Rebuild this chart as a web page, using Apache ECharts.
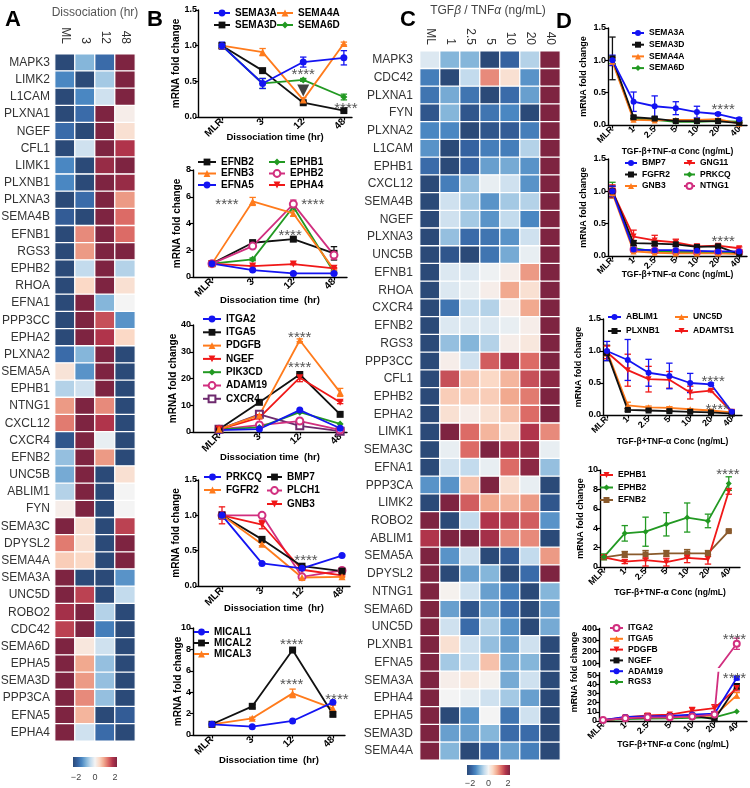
<!DOCTYPE html>
<html><head><meta charset="utf-8">
<script src="https://cdn.jsdelivr.net/npm/echarts@6/dist/echarts.min.js"></script>
<style>html,body{margin:0;padding:0;background:#fff}#c{width:750px;height:788px}</style>
</head><body><div id="c"></div>
<script>
const FF = "'Liberation Sans', Arial, Helvetica, sans-serif";

// ---------------- Panel A heatmap ----------------
const aCols = ['ML','3','12','48'];
const aRows = ['MAPK3','LIMK2','L1CAM','PLXNA1','NGEF','CFL1','LIMK1','PLXNB1','PLXNA3','SEMA4B','EFNB1','RGS3','EPHB2','RHOA','EFNA1','PPP3CC','EPHA2','PLXNA2','SEMA5A','EPHB1','NTNG1','CXCL12','CXCR4','EFNB2','UNC5B','ABLIM1','FYN','SEMA3C','DPYSL2','SEMA4A','SEMA3A','UNC5D','ROBO2','CDC42','SEMA6D','EPHA5','SEMA3D','PPP3CA','EFNA5','EPHA4'];
const aVals = [
[-2,-0.8,-1.5,2],[-1.2,-2,-0.6,2],[-2,-1.2,-0.3,2],[-2,-1.5,2,0.1],[-1.5,-2,2,0.3],
[-2,-0.3,2,1.6],[-1.2,-2,1.8,2],[-1.2,-2,2,1.8],[-2,-1.5,2,0.9],[-1.7,-2,2,1.2],
[-2,1.0,2,1.2],[-2,0.9,2,2],[-2,-0.4,2,-0.5],[-2,0.4,2,0.3],[-2,2,-0.8,0],
[-2,2,1.4,-1.1],[-2,2,1.6,0.4],[-1.5,-0.8,2,-2],[0.25,-1.1,2,-2],[-0.5,-0.3,2,-2],
[0.9,2,1.0,-2],[1.1,2,1.6,-2],[-1.8,2,-0.1,-2],[-0.7,2,0.9,-2],[-0.9,2,-2,0.3],
[-0.5,2,-2,0],[0.1,2,-2,0],[2,0.3,-2,1.5],[1.1,0.3,-2,2],[0.5,0.4,-2,2],
[2,-2,-2,-1.1],[2,1.5,-2,-0.4],[1.7,2,-0.5,-2],[1.5,2,-1.3,-2],[2,0.2,-0.3,-2],
[2,0.8,-0.7,-2],[2,0.9,-0.7,-2],[2,1.0,-0.7,-2],[2,0.7,-2,-1.7],[2,-0.3,-1.5,-2]];

// ---------------- Panel C heatmap ----------------
const cCols = ['ML','1','2.5','5','10','20','40'];
const cRows = ['MAPK3','CDC42','PLXNA1','FYN','PLXNA2','L1CAM','EPHB1','CXCL12','SEMA4B','NGEF','PLXNA3','UNC5B','EFNB1','RHOA','CXCR4','EFNB2','RGS3','PPP3CC','CFL1','EPHB2','EPHA2','LIMK1','SEMA3C','EFNA1','PPP3CA','LIMK2','ROBO2','ABLIM1','SEMA5A','DPYSL2','NTNG1','SEMA6D','UNC5D','PLXNB1','EFNA5','SEMA3A','EPHA4','EPHA5','SEMA3D','SEMA4A'];
const cVals = [
[-0.2,-0.8,-0.8,-2,-1.6,-0.5,2],[-1.3,-2,-0.4,1.0,0.3,-1.1,2],[-1.4,-0.9,-1.4,-2,-1.5,-1.0,2],
[-1.8,-0.8,-1.8,-1.4,-1.2,-2,2],[-1.2,-1.2,-2,-1.8,-1.7,-1.3,2],[-1.1,-2,-1.6,-1.3,-1.3,-0.5,2],
[-1.5,-2,-1.6,-1.0,-0.9,-1.1,2],[-2,-1.3,-0.7,-0.1,-0.3,-1.1,2],[-2,-0.3,-0.6,-1.1,-0.6,-0.5,2],
[-2,-0.3,-0.6,-1.1,-0.4,-1.2,2],[-2,-0.7,-1.5,-1.4,-1.1,-0.3,2],[-2,-1.8,-2,-1.4,-0.9,-0.1,2],
[-2,-0.2,-0.2,-0.05,0.1,0.9,2],[-2,-0.2,-0.1,0.1,0.8,0.3,2],[-2,-1.4,-0.4,-0.5,0.1,0.8,2],
[-2,-0.2,-0.2,-0.2,-0.1,0.1,2],[-2,-0.7,-0.8,-0.5,0.1,0.2,2],[-2,0.1,-0.3,1.3,1.7,1.2,2],
[-2,1.4,0.6,0.4,0.7,1.4,1.9],[-2,0.5,0.5,0.5,0.8,1.1,2],[-2,0.3,0.1,0.3,0.6,1.2,2],
[-2,2,1.2,0.7,0.3,1.6,1.0],[-2,-0.1,1.2,2,1.7,1.8,-0.1],[-2,-0.3,-0.4,-0.1,1.2,1.9,-0.7],
[-1.1,-1.1,0.6,2,0.3,-0.1,-2],[-2,2,1.3,0.8,0.7,0.9,-1.8],[2,-2,-0.4,1.6,1.5,1.3,-1.1],
[1.6,2,2,1.7,1.0,1.0,-2],[2,-1.1,-0.3,-2,-1.7,-0.4,0.9],[2,-2,-1.0,-0.8,-2,-1.5,2],
[2,0.05,-0.3,-1.0,-1.3,-2,-0.8],[2,-1.0,-1.8,-1.0,-1.5,-2,-1.0],[2,-0.3,-1.5,-0.5,-1.1,-2,-0.9],
[2,0.3,-0.3,-0.7,-1.0,-0.3,-2],[2,-0.6,-0.4,0.6,-0.9,-0.8,-2],[2,0.1,0.2,0.05,-0.9,-0.3,-2],
[2,0,-0.1,-0.3,-0.6,-1.0,-2],[2,-2,-1.1,0,-1.4,-0.3,-2],[2,-1.0,-1.0,-0.8,-1.5,-1.5,-2],
[2,-0.8,-2,-1.5,-1.0,-1.3,-2]];

const PALETTE = ['#2b4a78','#3562a0','#4a87c2','#85b6da','#c3dbed','#f4f4f4','#fbd9c6','#f1a98f','#dc6b66','#b0344b','#7e2441'];

// ---------------- Panel B line charts ----------------
const catsB = ['MLR','3','12','48'];
// B1
const b1_SEMA3A = [1.00,0.47,0.77,0.83], b1_SEMA3A_err = [0.05,0.07,0.07,0.10];
const b1_SEMA3D = [1.00,0.65,0.20,0.09], b1_SEMA3D_err = [0.04,0.01,0.02,0.01];
const b1_SEMA4A = [1.00,0.91,0.24,1.03], b1_SEMA4A_err = [0.03,0.05,0.03,0.02];
const b1_SEMA6D = [1.00,0.47,0.52,0.28], b1_SEMA6D_err = [0.03,0.07,0.02,0.04];
const b1_stars = [[2,0.63],[3.05,0.15]];
const b1_arrow = [[2,0.37]];
// B2
const b2_EFNB2 = [1.0,2.56,2.83,1.77], b2_EFNB2_err = [0.1,0.2,0.1,0.5];
const b2_EFNB3 = [1.0,5.65,4.75,0.55], b2_EFNB3_err = [0.1,0.3,0.2,0.1];
const b2_EFNA5 = [1.0,0.52,0.27,0.27], b2_EFNA5_err = [0.05,0.05,0.05,0.05];
const b2_EPHB1 = [1.0,1.32,5.25,0.35], b2_EPHB1_err = [0.05,0.1,0.3,0.1];
const b2_EPHB2 = [1.0,2.31,5.45,1.64], b2_EPHB2_err = [0.1,0.15,0.3,0.3];
const b2_EPHA4 = [1.0,0.82,0.97,0.65], b2_EPHA4_err = [0.05,0.05,0.05,0.05];
const b2_stars = [[0.37,5.6],[2.48,5.63],[1.92,3.3]];
// B3
const b3_ITGA2 = [0.7,1.1,8.2,1.4];
const b3_ITGA5 = [1.0,11.1,21.5,6.6];
const b3_PDGFB = [1.0,6.3,34.3,14.8], b3_PDGFB_err = [0,0.5,0.5,1.5];
const b3_NGEF = [1.0,5.4,20.3,11.1], b3_NGEF_err = [0,0.5,1.5,0.5];
const b3_PIK3CD = [1.0,1.7,7.4,3.0];
const b3_ADAM19 = [1.0,2.6,4.1,0.8];
const b3_CXCR4 = [1.0,6.6,2.3,0.3];
const b3_stars = [[2.0,36.3],[2.0,25.0]];
// B4
const b4_PRKCQ = [1.0,0.32,0.25,0.43], b4_PRKCQ_err = [0.05,0.01,0.01,0.01];
const b4_FGFR2 = [1.0,0.59,0.12,0.13], b4_FGFR2_err = [0.05,0.02,0.01,0.01];
const b4_BMP7 = [1.0,0.66,0.28,0.21], b4_BMP7_err = [0.05,0.01,0.01,0.01];
const b4_PLCH1 = [1.0,1.0,0.13,0.22], b4_PLCH1_err = [0.03,0.03,0.01,0.01];
const b4_GNB3 = [1.0,0.87,0.23,0.15], b4_GNB3_err = [0.12,0.06,0.01,0.01];
const b4_stars = [[2.1,0.4]];
// B5
const b5_MICAL1 = [1.0,0.78,1.31,3.05];
const b5_MICAL2 = [1.0,2.68,7.94,1.93], b5_MICAL2_err = [0,0.15,0.1,0.15];
const b5_MICAL3 = [1.0,1.56,3.89,2.49], b5_MICAL3_err = [0,0.1,0.4,0.3];
const b5_stars = [[1.98,8.7],[1.98,4.95],[3.1,3.55]];

// ---------------- Panel D line charts ----------------
const catsD = ['MLR','1','2.5','5','10','20','40'];
// D1
const d1_SEMA3A = [1.0,0.36,0.29,0.26,0.20,0.17,0.09], d1_SEMA3A_err = [0.08,0.15,0.16,0.10,0.09,0.02,0.02];
const d1_SEMA3D = [1.03,0.12,0.10,0.06,0.06,0.06,0.03], d1_SEMA3D_err = [0.33,0.02,0.02,0.01,0.01,0.01,0.01];
const d1_SEMA4A = [0.98,0.08,0.07,0.08,0.08,0.09,0.02], d1_SEMA4A_err = [0.06,0.01,0.01,0.01,0.01,0.01,0.01];
const d1_SEMA6D = [1.0,0.10,0.08,0.05,0.05,0.06,0.05], d1_SEMA6D_err = [0.05,0.01,0.01,0.01,0.01,0.01,0.01];
const d1_stars = [[5.24,0.28]];
// D2
const d2_BMP7 = [1.0,0.10,0.09,0.09,0.08,0.07,0.07], d2_BMP7_err = [0.08,0.02,0.01,0.01,0.01,0.01,0.01];
const d2_FGFR2 = [1.0,0.20,0.19,0.18,0.14,0.15,0.03], d2_FGFR2_err = [0.08,0.04,0.03,0.03,0.02,0.02,0.01];
const d2_GNB3 = [0.97,0.07,0.05,0.04,0.04,0.04,0.03], d2_GNB3_err = [0.05,0.01,0.01,0.01,0.01,0.01,0.01];
const d2_GNG11 = [1.0,0.30,0.24,0.21,0.15,0.16,0.12], d2_GNG11_err = [0.1,0.1,0.08,0.05,0.03,0.02,0.02];
const d2_PRKCQ = [1.02,0.12,0.07,0.06,0.06,0.05,0.05], d2_PRKCQ_err = [0.12,0.02,0.01,0.01,0.01,0.01,0.01];
const d2_NTNG1 = [1.0,0.10,0.08,0.07,0.06,0.06,0.06], d2_NTNG1_err = [0.05,0.01,0.01,0.01,0.01,0.01,0.01];
const d2_stars = [[5.24,0.26]];
// D3
const d3_ABLIM1 = [1.0,0.86,0.66,0.61,0.50,0.48,0.05], d3_ABLIM1_err = [0.15,0.32,0.21,0.20,0.15,0.02,0.03];
const d3_PLXNB1 = [0.97,0.08,0.07,0.06,0.05,0.04,0.02], d3_PLXNB1_err = [0.12,0.02,0.01,0.01,0.01,0.01,0.01];
const d3_UNC5D = [1.0,0.15,0.12,0.11,0.09,0.07,0.04], d3_UNC5D_err = [0.08,0.05,0.02,0.02,0.01,0.01,0.01];
const d3_ADAMTS1 = [0.98,0.70,0.56,0.55,0.35,0.38,0.05], d3_ADAMTS1_err = [0.1,0.25,0.2,0.13,0.1,0.02,0.02];
const d3_stars = [[5.1,0.56],[5.3,0.125]];
// D4
const d4_EPHB1 = [1.0,0.55,0.7,0.5,0.95,0.8,7.8], d4_EPHB1_err = [0.1,0.2,0.6,0.4,0.5,0.5,0.3];
const d4_EPHB2 = [1.05,3.47,3.64,4.4,5.1,4.75,8.6], d4_EPHB2_err = [0.3,0.8,1.5,1.2,1.5,0.7,0.7];
const d4_EFNB2 = [1.0,1.3,1.3,1.4,1.4,1.4,3.7], d4_EFNB2_err = [0.1,0.3,0.4,0.3,0.4,0.3,0.1];
const d4_stars = [[5.96,9.8]];
// D5
const d5_ITGA2 = [1,3,4,4,5,7,270], d5_ITGA2_err = [0,0,0,0,0,0,50];
const d5_ITGA5 = [1,3,4,4,5,6,28], d5_ITGA5_err = [0,0,0,0,0,0,3];
const d5_PDGFB = [1,4,6,7,11,14,36], d5_PDGFB_err = [0,1,2,1,4,4,3];
const d5_NGEF = [1,3,4,5,6,2,38], d5_NGEF_err = [0,1,4,1,1,1,3];
const d5_ADAM19 = [1,4.5,5,5.5,7,8,47], d5_ADAM19_err = [0,1,1,1,1,2,2];
const d5_RGS3 = [1,2,2.5,3,3.5,4,10.5];
const d5_starsTop = [[5.9,332]];
const d5_starsBottom = [[5.9,49.5]];

// ---------------- styles ----------------
const COL = {blue:'#1414f2', orange:'#ff7b1c', black:'#111111', green:'#229922', mag:'#d12f7f', red:'#f01818', purple:'#6e2a6e', brown:'#8a5a2c'};
const SYM = {
  circle:{symbol:'circle'}, square:{symbol:'rect'}, tri:{symbol:'triangle'}, down:{symbol:'triangle', rot:180},
  star:{symbol:'diamond'}, ocircle:{symbol:'emptyCircle'}, osquare:{symbol:'emptyRect'}
};

const option = {animation:false, backgroundColor:'#fff', textStyle:{fontFamily:FF},
  grid:[], xAxis:[], yAxis:[], series:[], legend:[], visualMap:[], graphic:{elements:[]}};

function heatPanel(cols, rows, vals, g, rowMargin, colMargin) {
  const gi = option.grid.length;
  option.grid.push({left:g.l, top:g.t, width:g.w, height:g.h, outerBoundsMode:'none', containLabel:false});
  option.xAxis.push({gridIndex:gi, type:'category', data:cols, position:'top',
    axisLine:{show:false}, axisTick:{show:false}, splitLine:{show:false},
    axisLabel:{rotate:90, interval:0, fontSize:12, color:'#333', margin:colMargin, fontFamily:FF}});
  option.yAxis.push({gridIndex:gi, type:'category', data:rows, inverse:true,
    axisLine:{show:false}, axisTick:{show:false}, splitLine:{show:false},
    axisLabel:{interval:0, fontSize:12, color:'#333', margin:rowMargin, fontFamily:FF}});
  const data = [];
  rows.forEach((r,i)=>cols.forEach((c,j)=>data.push([j,i,vals[i][j]])));
  const si = option.series.length;
  option.series.push({type:'heatmap', xAxisIndex:gi, yAxisIndex:gi, data,
    itemStyle:{borderColor:'#fff', borderWidth:1.3}, emphasis:{disabled:true}});
  option.visualMap.push({type:'continuous', show:false, min:-2, max:2, seriesIndex:si, dimension:2,
    inRange:{color:PALETTE}});
}

function errRender(params, api) {
  const x = api.value(0), lo = api.value(1), hi = api.value(2);
  const p1 = api.coord([x, lo]), p2 = api.coord([x, hi]);
  const w = 3.2;
  const style = {stroke: api.visual('color'), lineWidth: 1.3, fill: null};
  return {type:'group', children:[
    {type:'line', shape:{x1:p1[0],y1:p1[1],x2:p2[0],y2:p2[1]}, style},
    {type:'line', shape:{x1:p1[0]-w,y1:p1[1],x2:p1[0]+w,y2:p1[1]}, style},
    {type:'line', shape:{x1:p2[0]-w,y1:p2[1],x2:p2[0]+w,y2:p2[1]}, style}]};
}
function starRender(params, api) {
  const p = api.coord([api.value(0), api.value(1)]);
  return {type:'text', x:p[0], y:p[1]+3, style:{text:'****', fill:'#555', font:'15px ' + FF, align:'center', verticalAlign:'middle'}};
}

function linePanel(c) {
  const gi = option.grid.length;
  const fs = c.fs;
  const idx = c.cats.map((_, i) => i);
  option.grid.push({left:c.g.l, top:c.g.t, width:c.g.w, height:c.g.h, outerBoundsMode:'none', containLabel:false});
  const axLine = {show:true, onZero:false, lineStyle:{color:'#000', width:1.4}};
  option.xAxis.push({gridIndex:gi, type:'value', min:c.xMin, max:c.xMax, show: c.showX !== false,
    axisLine:axLine, splitLine:{show:false},
    axisTick:{show:true, customValues:idx, length:3.5, lineStyle:{color:'#000', width:1.2}},
    axisLabel:{customValues:idx, formatter:v=>c.cats[Math.round(v)], rotate:45, fontSize:fs, fontWeight:'bold', color:'#000', margin:3, fontFamily:FF},
    name:c.xName, nameLocation:'middle', nameGap:c.xNameGap, nameMoveOverlap:false,
    nameTextStyle:{fontSize:c.xNameFs, fontWeight:'bold', color:'#000', fontFamily:FF}});
  option.yAxis.push({gridIndex:gi, type:'value', min:c.yMin, max:c.yMax,
    axisLine:axLine, splitLine:{show:false},
    axisTick:{show:true, customValues:c.yTicks, length:3, lineStyle:{color:'#000', width:1.2}},
    axisLabel:{customValues:c.yTicks, formatter:v=>v.toFixed(c.yDec), fontSize:c.yfs || fs, fontWeight:'bold', color:'#000', margin:c.ym != null ? c.ym : 2, fontFamily:FF},
    name:c.yName || '', nameLocation:'middle', nameGap:c.yNameGap || 0, nameMoveOverlap:false,
    nameTextStyle:{fontSize:c.yNameFs, fontWeight:'bold', color:'#000', fontFamily:FF}});
  c.series.forEach(s => {
    const sy = SYM[s.sym];
    option.series.push({type:'line', name:s.name + '|' + c.key, xAxisIndex:gi, yAxisIndex:gi,
      data:s.data.map((v,i)=>[i,v]), symbol:sy.symbol, symbolRotate:sy.rot || 0, symbolSize:c.symSize,
      itemStyle:{color:s.color, borderWidth: (sy.symbol.indexOf('empty')===0 ? 1.5 : 0)},
      lineStyle:{color:s.color, width:1.8}, clip:true, z:3, emphasis:{disabled:true}});
    if (s.err) {
      const ed = [];
      s.data.forEach((v,i)=>{ if (s.err[i] > 0) ed.push([i, v - s.err[i], v + s.err[i]]); });
      option.series.push({type:'custom', xAxisIndex:gi, yAxisIndex:gi, data:ed, renderItem:errRender,
        itemStyle:{color:s.color}, clip:true, z:2, silent:true});
    }
  });
  if (c.stars) option.series.push({type:'custom', xAxisIndex:gi, yAxisIndex:gi, data:c.stars, renderItem:starRender, clip:false, z:5, silent:true});
  if (c.extra) option.series.push(Object.assign({xAxisIndex:gi, yAxisIndex:gi}, c.extra));
  return gi;
}

function addLegend(key, names, left, centerY, spacing, iw, ih, fs) {
  option.legend.push({data:names.map(n=>n+'|'+key), left, top:centerY - spacing/2, orient:'vertical',
    padding:0, itemGap:0, itemWidth:iw, itemHeight:ih, selectedMode:false,
    formatter:n=>n.split('|')[0],
    textStyle:{fontSize:fs, fontWeight:'bold', color:'#000', lineHeight:spacing, fontFamily:FF}});
}

// ---------- build heatmaps ----------
heatPanel(aCols, aRows, aVals, {l:55, t:54, w:80, h:687}, 5, 10);
heatPanel(cCols, cRows, cVals, {l:420, t:51, w:140, h:709}, 7, 6);

// ---------- build B panels ----------
const Bfs = 10, BxFs = 9.5, ByFs = 10, Bsym = 7, Byfs = 9;
linePanel({key:'B1', cats:catsB, g:{l:198,t:10,w:154,h:107}, xMin:-0.59, xMax:3.2, yMin:0, yMax:1.5, yTicks:[0,0.5,1,1.5], yDec:1, yfs:Byfs, ym:1,
  yName:'mRNA fold change', yNameGap:17, yNameFs:ByFs, xName:'Dissociation time (hr)', xNameGap:15, xNameFs:BxFs, fs:Bfs, symSize:Bsym,
  series:[
    {name:'SEMA3D', color:COL.black, sym:'square', data:b1_SEMA3D, err:b1_SEMA3D_err},
    {name:'SEMA6D', color:COL.green, sym:'star', data:b1_SEMA6D, err:b1_SEMA6D_err},
    {name:'SEMA4A', color:COL.orange, sym:'tri', data:b1_SEMA4A, err:b1_SEMA4A_err},
    {name:'SEMA3A', color:COL.blue, sym:'circle', data:b1_SEMA3A, err:b1_SEMA3A_err}],
  stars:b1_stars,
  extra:{type:'scatter', data:b1_arrow, symbol:'triangle', symbolRotate:180, symbolSize:[12,12], itemStyle:{color:'#111'}, z:4, silent:true}});
addLegend('B1', ['SEMA3A','SEMA3D'], 213, 13, 12, 16, 8.5, Bfs);
addLegend('B1', ['SEMA4A','SEMA6D'], 276, 13, 12, 16, 8.5, Bfs);

linePanel({key:'B2', cats:catsB, g:{l:193,t:170,w:154,h:107}, xMin:-0.467, xMax:3.32, yMin:0, yMax:8, yTicks:[0,2,4,6,8], yDec:0, yfs:Byfs,
  yName:'mRNA fold change', yNameGap:11, yNameFs:ByFs, xName:'Dissociation time  (hr)', xNameGap:18, xNameFs:BxFs, fs:Bfs, symSize:Bsym,
  series:[
    {name:'EFNB2', color:COL.black, sym:'square', data:b2_EFNB2, err:b2_EFNB2_err},
    {name:'EPHB1', color:COL.green, sym:'star', data:b2_EPHB1, err:b2_EPHB1_err},
    {name:'EPHB2', color:COL.mag, sym:'ocircle', data:b2_EPHB2, err:b2_EPHB2_err},
    {name:'EFNB3', color:COL.orange, sym:'tri', data:b2_EFNB3, err:b2_EFNB3_err},
    {name:'EPHA4', color:COL.red, sym:'down', data:b2_EPHA4, err:b2_EPHA4_err},
    {name:'EFNA5', color:COL.blue, sym:'circle', data:b2_EFNA5, err:b2_EFNA5_err}],
  stars:b2_stars});
addLegend('B2', ['EFNB2','EFNB3','EFNA5'], 197, 162, 11.5, 18, 8.5, Bfs);
addLegend('B2', ['EPHB1','EPHB2','EPHA4'], 268, 162, 11.5, 16, 8.5, Bfs);

linePanel({key:'B3', cats:catsB, g:{l:193,t:325,w:154,h:107}, xMin:-0.645, xMax:3.17, yMin:0, yMax:40, yTicks:[0,10,20,30,40], yDec:0, yfs:Byfs,
  yName:'mRNA fold change', yNameGap:15, yNameFs:ByFs, xName:'Dissociation time  (hr)', xNameGap:20, xNameFs:BxFs, fs:Bfs, symSize:Bsym,
  series:[
    {name:'CXCR4', color:COL.purple, sym:'osquare', data:b3_CXCR4},
    {name:'ADAM19', color:COL.mag, sym:'ocircle', data:b3_ADAM19},
    {name:'PIK3CD', color:COL.green, sym:'star', data:b3_PIK3CD},
    {name:'ITGA2', color:COL.blue, sym:'circle', data:b3_ITGA2},
    {name:'ITGA5', color:COL.black, sym:'square', data:b3_ITGA5},
    {name:'NGEF', color:COL.red, sym:'down', data:b3_NGEF, err:b3_NGEF_err},
    {name:'PDGFB', color:COL.orange, sym:'tri', data:b3_PDGFB, err:b3_PDGFB_err}],
  stars:b3_stars});
addLegend('B3', ['ITGA2','ITGA5','PDGFB','NGEF','PIK3CD','ADAM19','CXCR4'], 202, 319, 13.3, 18, 8.5, Bfs);

linePanel({key:'B4', cats:catsB, g:{l:198,t:480,w:152,h:106}, xMin:-0.6, xMax:3.2, yMin:0, yMax:1.5, yTicks:[0,0.5,1,1.5], yDec:1, yfs:Byfs, ym:1,
  yName:'mRNA fold change', yNameGap:17, yNameFs:ByFs, xName:'Dissociation time  (hr)', xNameGap:17, xNameFs:BxFs, fs:Bfs, symSize:Bsym,
  series:[
    {name:'PLCH1', color:COL.mag, sym:'ocircle', data:b4_PLCH1, err:b4_PLCH1_err},
    {name:'GNB3', color:COL.red, sym:'down', data:b4_GNB3, err:b4_GNB3_err},
    {name:'BMP7', color:COL.black, sym:'square', data:b4_BMP7, err:b4_BMP7_err},
    {name:'FGFR2', color:COL.orange, sym:'tri', data:b4_FGFR2, err:b4_FGFR2_err},
    {name:'PRKCQ', color:COL.blue, sym:'circle', data:b4_PRKCQ, err:b4_PRKCQ_err}],
  stars:b4_stars});
addLegend('B4', ['PRKCQ','FGFR2'], 203, 477, 13, 17, 8.5, Bfs);
addLegend('B4', ['BMP7','PLCH1','GNB3'], 266, 477, 13.5, 15, 8.5, Bfs);

linePanel({key:'B5', cats:catsB, g:{l:193,t:628,w:152,h:107}, xMin:-0.47, xMax:3.3, yMin:0, yMax:10, yTicks:[0,2,4,6,8,10], yDec:0, yfs:Byfs,
  yName:'mRNA fold change', yNameGap:10, yNameFs:ByFs, xName:'Dissociation time  (hr)', xNameGap:20, xNameFs:BxFs, fs:Bfs, symSize:Bsym,
  series:[
    {name:'MICAL3', color:COL.orange, sym:'tri', data:b5_MICAL3, err:b5_MICAL3_err},
    {name:'MICAL2', color:COL.black, sym:'square', data:b5_MICAL2, err:b5_MICAL2_err},
    {name:'MICAL1', color:COL.blue, sym:'circle', data:b5_MICAL1}],
  stars:b5_stars});
addLegend('B5', ['MICAL1','MICAL2','MICAL3'], 193, 632, 11, 15, 8.5, Bfs);

// ---------- build D panels ----------
const Dfs = 9, DxFs = 8.5, DyFs = 9, Dsym = 6, DxName = 'TGF-\u03b2+TNF-\u03b1 Conc (ng/mL)';
linePanel({key:'D1', cats:catsD, g:{l:608,t:28,w:139,h:97}, xMin:-0.21, xMax:6.37, yMin:0, yMax:1.5, yTicks:[0,0.5,1,1.5], yDec:1,
  yName:'mRNA fold change', yNameGap:20, yNameFs:DyFs, xName:DxName, xNameGap:22, xNameFs:DxFs, fs:Dfs, symSize:Dsym,
  series:[
    {name:'SEMA6D', color:COL.green, sym:'star', data:d1_SEMA6D, err:d1_SEMA6D_err},
    {name:'SEMA4A', color:COL.orange, sym:'tri', data:d1_SEMA4A, err:d1_SEMA4A_err},
    {name:'SEMA3D', color:COL.black, sym:'square', data:d1_SEMA3D, err:d1_SEMA3D_err},
    {name:'SEMA3A', color:COL.blue, sym:'circle', data:d1_SEMA3A, err:d1_SEMA3A_err}],
  stars:d1_stars});
addLegend('D1', ['SEMA3A','SEMA3D','SEMA4A','SEMA6D'], 631, 33, 11.7, 12, 7.5, 8.5);

linePanel({key:'D2', cats:catsD, g:{l:608,t:159,w:139,h:97}, xMin:-0.21, xMax:6.37, yMin:0, yMax:1.5, yTicks:[0,0.5,1,1.5], yDec:1,
  yName:'mRNA fold change', yNameGap:20, yNameFs:DyFs, xName:DxName, xNameGap:14, xNameFs:DxFs, fs:Dfs, symSize:Dsym,
  series:[
    {name:'NTNG1', color:COL.mag, sym:'ocircle', data:d2_NTNG1, err:d2_NTNG1_err},
    {name:'PRKCQ', color:COL.green, sym:'star', data:d2_PRKCQ, err:d2_PRKCQ_err},
    {name:'GNB3', color:COL.orange, sym:'tri', data:d2_GNB3, err:d2_GNB3_err},
    {name:'GNG11', color:COL.red, sym:'down', data:d2_GNG11, err:d2_GNG11_err},
    {name:'FGFR2', color:COL.black, sym:'square', data:d2_FGFR2, err:d2_FGFR2_err},
    {name:'BMP7', color:COL.blue, sym:'circle', data:d2_BMP7, err:d2_BMP7_err}],
  stars:d2_stars});
addLegend('D2', ['BMP7','FGFR2','GNB3'], 624, 163, 11.5, 12, 7.5, 8.5);
addLegend('D2', ['GNG11','PRKCQ','NTNG1'], 683, 163, 11.5, 11, 7.5, 8.5);

linePanel({key:'D3', cats:catsD, g:{l:603,t:319,w:139,h:96}, xMin:-0.19, xMax:6.49, yMin:0, yMax:1.5, yTicks:[0,0.5,1,1.5], yDec:1,
  yName:'mRNA fold change', yNameGap:20, yNameFs:DyFs, xName:DxName, xNameGap:22, xNameFs:DxFs, fs:Dfs, symSize:Dsym,
  series:[
    {name:'UNC5D', color:COL.orange, sym:'tri', data:d3_UNC5D, err:d3_UNC5D_err},
    {name:'PLXNB1', color:COL.black, sym:'square', data:d3_PLXNB1, err:d3_PLXNB1_err},
    {name:'ADAMTS1', color:COL.red, sym:'down', data:d3_ADAMTS1, err:d3_ADAMTS1_err},
    {name:'ABLIM1', color:COL.blue, sym:'circle', data:d3_ABLIM1, err:d3_ABLIM1_err}],
  stars:d3_stars});
addLegend('D3', ['ABLIM1','PLXNB1'], 607, 317, 14, 13, 7.5, 8.5);
addLegend('D3', ['UNC5D','ADAMTS1'], 674, 317, 14, 13, 7.5, 8.5);

linePanel({key:'D4', cats:catsD, g:{l:600,t:470,w:140,h:97}, xMin:-0.19, xMax:6.54, yMin:0, yMax:10, yTicks:[0,2,4,6,8,10], yDec:0,
  yName:'mRNA fold change', yNameGap:15, yNameFs:DyFs, xName:DxName, xNameGap:21, xNameFs:DxFs, fs:Dfs, symSize:Dsym,
  series:[
    {name:'EFNB2', color:COL.brown, sym:'square', data:d4_EFNB2, err:d4_EFNB2_err},
    {name:'EPHB1', color:COL.red, sym:'down', data:d4_EPHB1, err:d4_EPHB1_err},
    {name:'EPHB2', color:COL.green, sym:'star', data:d4_EPHB2, err:d4_EPHB2_err}],
  stars:d4_stars});
addLegend('D4', ['EPHB1','EPHB2','EFNB2'], 599, 475, 12.5, 13, 7.5, 8.5);

const d5Series = [
  {name:'RGS3', color:COL.green, sym:'star', data:d5_RGS3},
  {name:'ITGA5', color:COL.orange, sym:'tri', data:d5_ITGA5, err:d5_ITGA5_err},
  {name:'NGEF', color:COL.black, sym:'square', data:d5_NGEF, err:d5_NGEF_err},
  {name:'PDGFB', color:COL.red, sym:'down', data:d5_PDGFB, err:d5_PDGFB_err},
  {name:'ADAM19', color:COL.blue, sym:'circle', data:d5_ADAM19, err:d5_ADAM19_err},
  {name:'ITGA2', color:COL.mag, sym:'ocircle', data:d5_ITGA2, err:d5_ITGA2_err}];
linePanel({key:'D5', cats:catsD, g:{l:599,t:672.6,w:148,h:48.4}, xMin:-0.18, xMax:6.46, yMin:0, yMax:53, yTicks:[0,10,20,30,40,50], yDec:0,
  xName:DxName, xNameGap:19, xNameFs:DxFs, fs:Dfs, symSize:Dsym, series:d5Series, stars:d5_starsBottom});
linePanel({key:'D5t', cats:catsD, g:{l:599,t:628.4,w:148,h:38.6}, xMin:-0.18, xMax:6.46, yMin:65, yMax:405, yTicks:[100,200,300,400], yDec:0,
  showX:false, fs:Dfs, symSize:Dsym, series:d5Series, stars:d5_starsTop});
addLegend('D5', ['ITGA2','ITGA5','PDGFB','NGEF','ADAM19','RGS3'], 609, 628, 10.8, 13, 7.5, 8.5);

// ---------- graphics: panel letters, titles, colorbars ----------
const G = option.graphic.elements;
const letter = (t,x,y)=>G.push({type:'text', left:x, top:y, style:{text:t, font:'bold 22px ' + FF, fill:'#000'}});
letter('A',5,9); letter('B',147,9); letter('C',400,9); letter('D',556,11);
G.push({type:'text', x:95, y:13, style:{text:'Dissociation (hr)', font:'12px ' + FF, fill:'#555', align:'center', verticalAlign:'middle'}});
G.push({type:'text', x:488, y:11, style:{
  text:'{n|TGF}{i|\u03b2}{n| / TNF}{i|\u03b1}{n| (ng/mL)}', align:'center', verticalAlign:'middle',
  rich:{n:{font:'12px ' + FF, fill:'#444'}, i:{font:'italic 12px ' + FF, fill:'#444'}}}});
const grad = {type:'linear', x:0, y:0, x2:1, y2:0, colorStops:PALETTE.map((c,i)=>({offset:i/(PALETTE.length-1), color:c}))};
function colorbar(x, y, w, h, ly) {
  G.push({type:'rect', shape:{x, y, width:w, height:h}, style:{fill:grad}});
  [['\u22122', x+3], ['0', x+w/2], ['2', x+w-2]].forEach(([t, lx]) =>
    G.push({type:'text', x:lx, y:ly, style:{text:t, font:'9px ' + FF, fill:'#444', align:'center', verticalAlign:'middle'}}));
}
colorbar(73, 757, 44, 10, 778);
colorbar(467, 765, 43, 10, 784);
G.push({type:'text', x:575, y:672, rotation:Math.PI/2, style:{text:'mRNA fold change', font:'bold 9px ' + FF, fill:'#000', align:'center', verticalAlign:'middle'}});

const chart = echarts.init(document.getElementById('c'), null, {renderer:'canvas'});
chart.setOption(option);
</script>
</body></html>
